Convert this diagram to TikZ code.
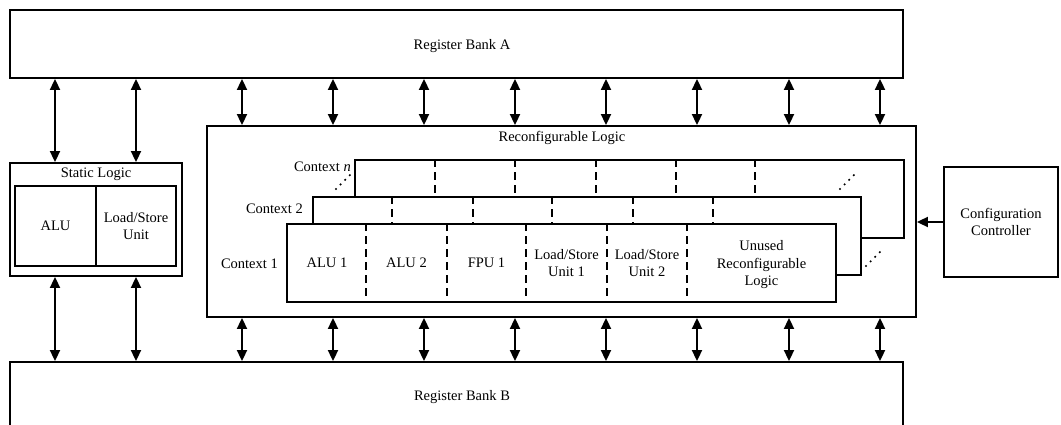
\documentclass[tikz,border=0pt]{standalone}
\usepackage{fontspec}
\setmainfont{Liberation Serif}
\usetikzlibrary{arrows.meta,calc}
\tikzset{
  box/.style={draw, line width=1.9pt, inner sep=0pt, fill=white, font=\fontsize{14.5}{17.5}\selectfont, align=center},
  lbl/.style={font=\fontsize{14.5}{17.5}\selectfont, align=center, inner sep=0pt},
  tip/.tip={Triangle[width=10pt,length=11pt]},
  bi/.style={line width=2pt, tip-tip},
  uni/.style={line width=2pt, -tip},
  dsh/.style={line width=2pt, dash pattern=on 8pt off 5pt},
  dotline/.style={line width=2.4pt, dash pattern=on 0pt off 6.5pt, line cap=round}
}
\begin{document}
\begin{tikzpicture}[x=1pt,y=-1pt]
\useasboundingbox (0,0) rectangle (1061,425);
\clip (0,0) rectangle (1061,425);
% register banks
\node[box, minimum width=893pt, minimum height=68pt] (A) at (456.5,44) {};
\node[lbl] (At) at (462,46) {Register Bank A};
\node[box, minimum width=893pt, minimum height=66pt] (B) at (456.5,395) {};
\node[lbl] (Bt) at (462,397) {Register Bank B};
% static logic
\node[box, minimum width=172pt, minimum height=113pt] (S) at (96,219.5) {};
\node[lbl] (St) at (96,174) {Static Logic};
\node[box, minimum width=81pt, minimum height=80pt] (SA) at (55.5,226) {ALU};
\node[box, minimum width=80pt, minimum height=80pt] (SL) at (136,226) {Load/Store\\Unit};
% reconfigurable logic
\node[box, minimum width=709pt, minimum height=191pt] (R) at (561.5,221.5) {};
\node[lbl] (Rt) at (562,138) {Reconfigurable Logic};
% context n
\node[box, minimum width=549pt, minimum height=78pt] (Cn) at (629.5,199) {};
\foreach \x in {435,515,596,676,755}
  \draw[dsh] (Cn.north -| \x,0) -- (Cn.south -| \x,0);
% context 2
\node[box, minimum width=548pt, minimum height=78pt] (C2) at (587,236) {};
\foreach \x in {392,473,552,633,713}
  \draw[dsh] (C2.north -| \x,0) -- (C2.south -| \x,0);
% context 1
\node[box, minimum width=549pt, minimum height=78pt] (C1) at (561.5,263) {};
\foreach \x in {366,447,526,607,687}
  \draw[dsh] (C1.north -| \x,0) -- (C1.south -| \x,0);
% context labels
\node[lbl, anchor=east] (Ln) at (351,167) {Context \textit{n}};
\node[lbl, anchor=east] (L2) at (303,209) {Context 2};
\node[lbl, anchor=east] (L1) at (278,264) {Context 1};
% cell labels
\node[lbl] (c1) at (327,263) {ALU 1};
\node[lbl] (c2) at (406.5,263) {ALU 2};
\node[lbl] (c3) at (486.5,263) {FPU 1};
\node[lbl] (c4) at (566.5,263) {Load/Store\\Unit 1};
\node[lbl] (c5) at (647,263) {Load/Store\\Unit 2};
\node[lbl] (c6) at (761.5,265) {Unused\\Reconfigurable\\Logic};
% dots
\coordinate (d1a) at (336,189); \coordinate (d1b) at (354,171);
\coordinate (d2a) at (840,189); \coordinate (d2b) at (858,171);
\coordinate (d3a) at (866,266); \coordinate (d3b) at (884,248);
\draw[dotline] (d1a) -- (d1b);
\draw[dotline] (d2a) -- (d2b);
\draw[dotline] (d3a) -- (d3b);
% configuration controller
\node[box, minimum width=114pt, minimum height=110pt] (CC) at (1001,222) {Configuration\\Controller};
\draw[uni] (CC.west) -- (R.east |- CC.west);
% arrows
\foreach \x in {55,136} {
  \draw[bi] (A.south -| \x,0) -- (S.north -| \x,0);
  \draw[bi] (S.south -| \x,0) -- (B.north -| \x,0);
}
\foreach \x in {242,333,424,515,606,697,789,880} {
  \draw[bi] (A.south -| \x,0) -- (R.north -| \x,0);
  \draw[bi] (R.south -| \x,0) -- (B.north -| \x,0);
}
\end{tikzpicture}
\end{document}
